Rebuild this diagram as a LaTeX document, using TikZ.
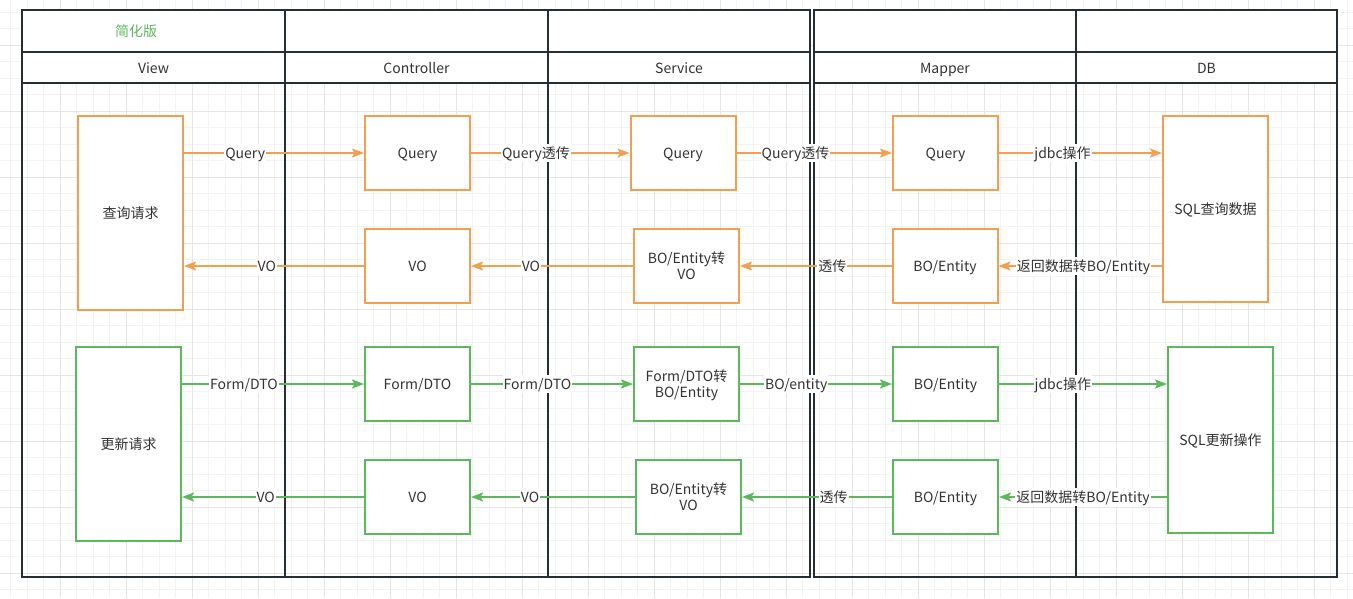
\documentclass[tikz,border=0pt]{standalone}
\usepackage{fontspec}
\setmainfont{Noto Sans CJK SC}
\usepackage{tikz}
\usetikzlibrary{arrows.meta}
\usepackage{xcolor}
\definecolor{orangex}{HTML}{F2A04F}
\definecolor{greenx}{HTML}{5CB85C}
\definecolor{lanex}{HTML}{262D33}
\definecolor{textx}{HTML}{333333}
\definecolor{gridminor}{HTML}{F3F3F3}
\definecolor{gridmajor}{HTML}{E6E6E6}

\begin{document}
\begin{tikzpicture}[x=1pt, y=-1pt,
      txt/.style={text=textx, font=\fontsize{14}{16}\selectfont, text height=14pt, text depth=2.5pt},
      box/.style={rectangle, draw=#1, line width=2pt, fill=white, align=center,
                  minimum width=105pt, minimum height=74pt, inner sep=2pt, txt},
      twoline/.style={text height=30pt},
      tallbox/.style={box=#1, minimum height=194pt},
      dbbox/.style={box=#1, minimum height=186pt},
      lane/.style={draw=lanex, line width=2pt},
      hdr/.style={txt},
      lbl/.style={fill=white, inner sep=1pt, txt},
      arr/.style={-{Stealth[length=12pt, width=9pt, inset=2.5pt]}, line width=1.8pt, draw=#1, color=#1}
    ]
    \useasboundingbox (0,0) rectangle (1353,598);
    \fill[white] (0,0) rectangle (1353,598);
    % background grid
    \foreach \gx in {10.5,27,...,1353} \draw[gridminor, line width=1pt] (\gx,0) -- (\gx,598);
    \foreach \gy in {12.3,28.8,...,598} \draw[gridminor, line width=1pt] (0,\gy) -- (1353,\gy);
    \foreach \gx in {60,126,...,1353} \draw[gridmajor, line width=1pt] (\gx,0) -- (\gx,598);
    \foreach \gy in {45.3,111.3,...,598} \draw[gridmajor, line width=1pt] (0,\gy) -- (1353,\gy);
    % lanes
    \fill[white] (22,10) rectangle (810,83);
    \fill[white] (814,10) rectangle (1337,83);
    \draw[lane] (22,10) rectangle (810,577);
    \draw[lane] (22,52) -- (810,52) (22,83) -- (810,83);
    \draw[lane] (285,10) -- (285,577) (548,10) -- (548,577);
    \draw[lane] (814,10) rectangle (1337,577);
    \draw[lane] (814,52) -- (1337,52) (814,83) -- (1337,83);
    \draw[lane] (1076,10) -- (1076,577);
    \node[hdr, text=greenx] (title) at (136,31) {简化版};
    \node[hdr] (hview) at (153.5,67.5) {View};
    \node[hdr] (hctl)  at (416.5,67.5) {Controller};
    \node[hdr] (hsvc)  at (679,67.5)   {Service};
    \node[hdr] (hmap)  at (945,67.5)   {Mapper};
    \node[hdr] (hdb)   at (1206.5,67.5) {DB};
    % query flow
    \node[tallbox=orangex] (qview) at (130.5,213) {查询请求};
    \node[box=orangex]     (qctl)  at (417.5,153) {Query};
    \node[box=orangex]     (qsvc)  at (683,153)   {Query};
    \node[box=orangex]     (qmap)  at (945.5,153) {Query};
    \node[dbbox=orangex]   (qdb)   at (1215.5,209) {SQL查询数据};
    \node[box=orangex]     (vctl)  at (417.5,266) {VO};
    \node[box=orangex, twoline] (vsvc) at (686.5,266) {BO/Entity转\\VO};
    \node[box=orangex]     (vmap)  at (945,266)   {BO/Entity};
    % update flow
    \node[tallbox=greenx]  (uview) at (128.5,444) {更新请求};
    \node[box=greenx]      (fctl)  at (417.5,384) {Form/DTO};
    \node[box=greenx, twoline] (fsvc) at (686.5,384) {Form/DTO转\\BO/Entity};
    \node[box=greenx]      (fmap)  at (945.5,384) {BO/Entity};
    \node[dbbox=greenx]    (udb)   at (1220.5,440) {SQL更新操作};
    \node[box=greenx]      (gctl)  at (417.5,497) {VO};
    \node[box=greenx, twoline] (gsvc) at (688.5,497) {BO/Entity转\\VO};
    \node[box=greenx]      (gmap)  at (945.5,497) {BO/Entity};
    % query arrows
    \draw[arr=orangex] (qview.east |- qctl.west) -- node[lbl, pos=0.34] {Query} (qctl.west);
    \draw[arr=orangex] (qctl.east) -- node[lbl, pos=0.41] {Query透传} (qsvc.west);
    \draw[arr=orangex] (qsvc.east) -- node[lbl, pos=0.38] {Query透传} (qmap.west);
    \draw[arr=orangex] (qmap.east) -- node[lbl, pos=0.39] {jdbc操作} (qdb.west |- qmap.east);
    \draw[arr=orangex] (qdb.west |- vmap.east) -- node[lbl, pos=0.48] {返回数据转BO/Entity} (vmap.east);
    \draw[arr=orangex] (vmap.west) -- node[lbl, pos=0.39] {透传} (vsvc.east);
    \draw[arr=orangex] (vsvc.west) -- node[lbl, pos=0.63] {VO} (vctl.east);
    \draw[arr=orangex] (vctl.west) -- node[lbl, pos=0.54] {VO} (qview.east |- vctl.west);
    % update arrows
    \draw[arr=greenx] (uview.east |- fctl.west) -- node[lbl, pos=0.34] {Form/DTO} (fctl.west);
    \draw[arr=greenx] (fctl.east) -- node[lbl, pos=0.41] {Form/DTO} (fsvc.west);
    \draw[arr=greenx] (fsvc.east) -- node[lbl, pos=0.37] {BO/entity} (fmap.west);
    \draw[arr=greenx] (fmap.east) -- node[lbl, pos=0.38] {jdbc操作} (udb.west |- fmap.east);
    \draw[arr=greenx] (udb.west |- gmap.east) -- node[lbl, pos=0.5] {返回数据转BO/Entity} (gmap.east);
    \draw[arr=greenx] (gmap.west) -- node[lbl, pos=0.39] {透传} (gsvc.east);
    \draw[arr=greenx] (gsvc.west) -- node[lbl, pos=0.64] {VO} (gctl.east);
    \draw[arr=greenx] (gctl.west) -- node[lbl, pos=0.54] {VO} (uview.east |- gctl.west);
  \end{tikzpicture}
\end{document}
